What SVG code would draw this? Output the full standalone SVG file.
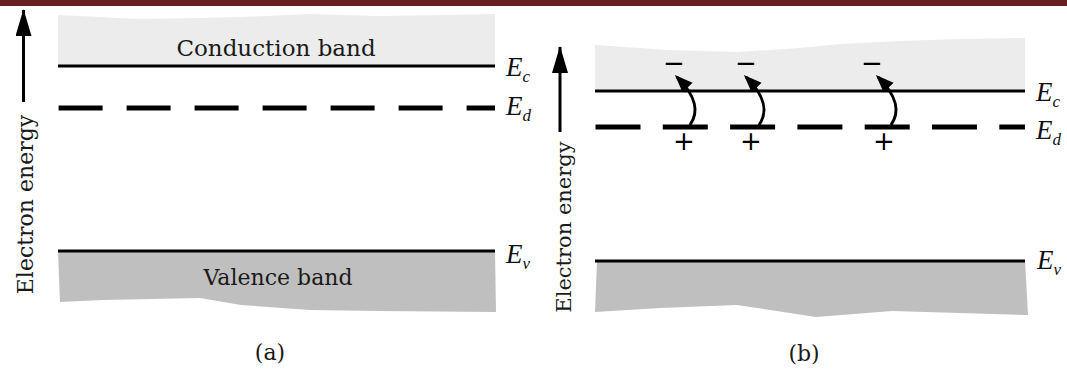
<svg xmlns="http://www.w3.org/2000/svg" width="1067" height="369" viewBox="0 0 1067 369">
<style>
.lbl{font-family:"DejaVu Serif","Liberation Serif",serif;fill:#1a1a1a;}
.E{font-family:"Liberation Serif","Times New Roman",serif;font-style:italic;font-size:27px;fill:#111;}
.sub{font-size:17px;}
.lvl{stroke:#000;stroke-width:3;fill:none;}
.dash{stroke:#000;stroke-width:5;fill:none;}
.cb{fill:#ececec;}
.vb{fill:#bfbfbf;}
.ax{stroke:#000;stroke-width:3;fill:none;}
.tr{stroke:#000;stroke-width:3;fill:none;}
.chg{font-family:"DejaVu Sans","Liberation Sans",sans-serif;font-size:26px;fill:#000;text-anchor:middle;}
</style>
<defs>
<marker id="ah" markerUnits="userSpaceOnUse" markerWidth="22" markerHeight="22" refX="15" refY="7" orient="auto">
<path d="M0,0 L18,7 L0,14 Z" fill="#000"/>
</marker>
<marker id="axh" markerUnits="userSpaceOnUse" markerWidth="30" markerHeight="24" refX="26" refY="8" orient="auto">
<path d="M0,0 L27,8 L0,16 Z" fill="#000"/>
</marker>
</defs>
<rect x="0" y="0" width="1067" height="6" fill="#67201f"/>

<g id="panel-a">
<g id="a-conduction">
<path class="cb" d="M58,15 L100,17 L138,19 L200,18 L241,17 L310,14 L379,16 L440,15 L495,14 L495,66 L58,66 Z"/>
<text class="lbl" x="276" y="56" font-size="23" text-anchor="middle">Conduction band</text>
</g>
<g id="a-Ec">
<line class="lvl" x1="58" y1="66" x2="495" y2="66"/>
<text class="E" x="506" y="76">E<tspan class="sub" dy="6">c</tspan></text>
</g>
<g id="a-Ed">
<line class="dash" x1="58.6" y1="108" x2="495" y2="108" stroke-dasharray="44 24"/>
<text class="E" x="506" y="115">E<tspan class="sub" dy="6">d</tspan></text>
</g>
<g id="a-valence">
<path class="vb" d="M58,251 L495,251 L496,312 L379,311 L310,310 L241,305 L200,298 L103,300 L60,302 Z"/>
<line class="lvl" x1="58" y1="251" x2="495" y2="251"/>
<text class="E" x="506" y="263">E<tspan class="sub" dy="6">v</tspan></text>
<text class="lbl" x="278" y="285" font-size="22" text-anchor="middle">Valence band</text>
</g>
<text id="a-axis-label" class="lbl" font-size="22" text-anchor="middle" transform="translate(33,204.5) rotate(-90)">Electron energy</text>
<text id="a-caption" class="lbl" x="270" y="360" font-size="22" text-anchor="middle">(a)</text>
</g>

<g id="panel-b">
<g id="b-conduction">
<path class="cb" d="M595,45 L640,48 L667,50 L737,52 L800,48 L840,44 L900,41 L960,39 L1025,38 L1025,91 L595,91 Z"/>
</g>
<g id="b-Ec">
<line class="lvl" x1="595" y1="91" x2="1025" y2="91"/>
<text class="E" x="1036" y="101">E<tspan class="sub" dy="6">c</tspan></text>
</g>
<g id="b-Ed">
<line class="dash" x1="595.5" y1="127" x2="1025" y2="127" stroke-dasharray="45 22.3"/>
<text class="E" x="1036" y="139">E<tspan class="sub" dy="6">d</tspan></text>
</g>
<g id="b-charges">
<text class="chg" x="674" y="72">−</text>
<text class="chg" x="746" y="72">−</text>
<text class="chg" x="872" y="72">−</text>
<text class="chg" x="684" y="150">+</text>
<text class="chg" x="751" y="150">+</text>
<text class="chg" x="884" y="150">+</text>
</g>
<g id="b-valence">
<path class="vb" d="M597,261 L1025,261 L1028,315 L892,311 L816,317 L737,305 L660,308 L595,312 Z"/>
<line class="lvl" x1="595" y1="261" x2="1025" y2="261"/>
<text class="E" x="1037" y="269">E<tspan class="sub" dy="6">v</tspan></text>
</g>
<text id="b-axis-label" class="lbl" font-size="21" text-anchor="middle" transform="translate(571,227) rotate(-90)">Electron energy</text>
<text id="b-caption" class="lbl" x="804" y="361" font-size="22" text-anchor="middle">(b)</text>
</g>

<g id="connectors">
<line class="ax" x1="23.5" y1="102" x2="23.5" y2="10" marker-end="url(#axh)"/>
<line class="ax" x1="560" y1="132" x2="560" y2="47" marker-end="url(#axh)"/>
<path class="tr" d="M690,125 C699,112 697,97 677,77" marker-end="url(#ah)"/>
<path class="tr" d="M759,125 C768,112 766,97 746,77" marker-end="url(#ah)"/>
<path class="tr" d="M891,125 C900,112 898,97 878,77" marker-end="url(#ah)"/>
</g>
</svg>
